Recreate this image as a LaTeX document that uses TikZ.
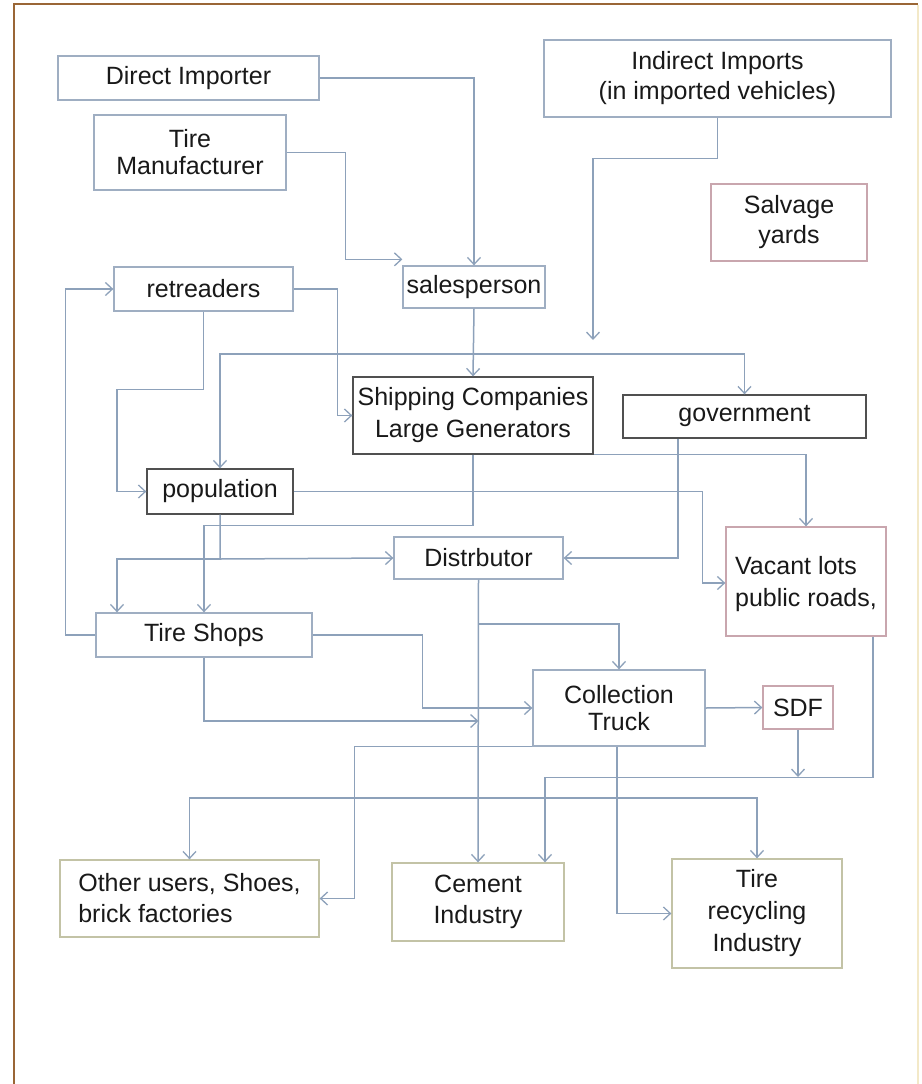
\documentclass[tikz,border=0pt]{standalone}
\usepackage{fontspec}
\setmainfont{Liberation Sans}
\usetikzlibrary{arrows.meta}
\definecolor{conn}{HTML}{8DA1BA}
\definecolor{boxgray}{HTML}{9FAEC2}
\definecolor{boxdark}{HTML}{505050}
\definecolor{boxpink}{HTML}{C9A6AE}
\definecolor{boxolive}{HTML}{C3C3A6}
\definecolor{frame}{HTML}{9A6636}
\definecolor{framelight}{HTML}{F3E9C8}
\tikzset{
  box/.style={draw=boxgray, line width=1.3pt, rectangle, inner sep=0pt, align=center,
    text=black!90, font=\fontsize{25}{30}\selectfont},
  darkbox/.style={box, draw=boxdark},
  pinkbox/.style={box, draw=boxpink},
  olivebox/.style={box, draw=boxolive},
  link/.style={draw=conn, line width=1.5pt},
  arr/.style={link, -{Straight Barb[length=7pt,width=13pt,line width=1.3pt]}},
}
\begin{document}
\begin{tikzpicture}[x=1pt,y=-1pt]
\useasboundingbox (0,0) rectangle (921,1084);
\fill[white] (0,0) rectangle (921,1084);
% frame
\draw[frame, line width=2pt] (14,1084) -- (14,4) -- (918,4);
\draw[framelight, line width=1.5pt] (918,5) -- (918,1084);

% nodes
\node[box, minimum width=261pt, minimum height=44pt] (dimp) at (188.5,78) {Direct Importer};
\node[box, minimum width=192pt, minimum height=75pt, font=\fontsize{25}{27}\selectfont] (tman) at (190,152.5) {Tire\\Manufacturer};
\node[box, minimum width=347pt, minimum height=77pt] (iimp) at (717.5,78.5) {Indirect Imports\\(in imported vehicles)};
\node[pinkbox, minimum width=156pt, minimum height=77pt] (salv) at (789,222.5) {Salvage\\yards};
\node[box, minimum width=142pt, minimum height=42pt] (sales) at (474,287) {salesperson};
\node[box, minimum width=179pt, minimum height=44pt] (retr) at (203.5,289) {retreaders};
\node[darkbox, minimum width=240pt, minimum height=77pt, font=\fontsize{25}{32}\selectfont] (ship) at (473,415.5) {Shipping Companies\\Large Generators};
\node[darkbox, minimum width=243pt, minimum height=43pt] (gov) at (744.5,416.5) {government};
\node[darkbox, minimum width=146pt, minimum height=45pt] (pop) at (220,491.5) {population};
\node[box, minimum width=169pt, minimum height=42pt] (dist) at (478.5,558) {Distrbutor};
\node[pinkbox, minimum width=160pt, minimum height=109pt, align=left, font=\fontsize{25}{32}\selectfont, text depth=0pt] (vac) at (806,581.5) {Vacant lots\\public roads,};
\node[box, minimum width=216pt, minimum height=44pt] (shops) at (204,635) {Tire Shops};
\node[box, minimum width=172pt, minimum height=76pt, font=\fontsize{25}{27}\selectfont] (coll) at (619,708) {Collection\\Truck};
\node[pinkbox, minimum width=70pt, minimum height=43pt] (sdf) at (798,707.5) {SDF};
\node[olivebox, minimum width=259pt, minimum height=77pt, align=left, font=\fontsize{25}{31}\selectfont] (other) at (189.5,898.5) {Other users, Shoes,\\brick factories};
\node[olivebox, minimum width=172pt, minimum height=78pt, font=\fontsize{25}{31}\selectfont] (cem) at (478,902) {Cement\\Industry};
\node[olivebox, minimum width=170pt, minimum height=109pt, font=\fontsize{25}{32}\selectfont] (trec) at (757,913.5) {Tire\\recycling\\Industry};

% junction coordinates
\coordinate (iend) at (593,340);
\coordinate (j1) at (474,354);
\coordinate (j2) at (220,559);
\coordinate (j3) at (478.5,624);
\coordinate (j4) at (478.5,798);
\coordinate (j5) at (478.5,721);
\coordinate (j6) at (798,777);

% connectors
\draw[arr] (dimp.east) -| (sales.north);
\draw[arr] (tman.east) -- ++(59,0) |- ([yshift=6pt]sales.north west);
\draw[arr] (iimp.south) -- ++(0,41) -| (iend);
\draw[arr] (sales.south) -- (ship.north);
\draw[arr] (j1) -| (pop.north);
\draw[arr] (j1) -| (gov.north);
\draw[arr] (retr.east) -- ++(44,0) |- (ship.west);
\draw[arr] (retr.south) -- ++(0,78) -- ++(-86.5,0) |- (pop.west);
\draw[arr] (shops.west) -- ++(-30,0) |- (retr.west);
\draw[arr] (pop.east) -- ++(409,0) |- ([yshift=-1.5pt]vac.west);
\draw[arr] (pop.south) -- (j2) -- (dist.west);
\draw[arr] (j2) -- ++(-103,0) -- ([xshift=-87pt]shops.north);
\draw[arr] (ship.south) -- ++(0,71) -| (shops.north);
\draw[arr] (ship.south east) -| (vac.north);
\draw[arr] ([xshift=-66.5pt]gov.south) |- (dist.east);
\draw[arr] (dist.south) -- (cem.north);
\draw[arr] (j3) -| (coll.north);
\draw[arr] (j4) -| (other.north);
\draw[arr] (j4) -| (trec.north);
\draw[arr] (shops.east) -- ++(110,0) |- (coll.west);
\draw[arr] (shops.south) |- (j5);
\draw[arr] (coll.east) -- (sdf.west);
\draw[arr] (sdf.south) -- (j6);
\draw[arr] ([xshift=67pt]vac.south) -- ++(0,141) -| ([xshift=67pt]cem.north);
\draw[arr] (coll.south west) -- ++(-178,0) |- (other.east);
\draw[arr] ([xshift=-2pt]coll.south) |- (trec.west);
\end{tikzpicture}
\end{document}
